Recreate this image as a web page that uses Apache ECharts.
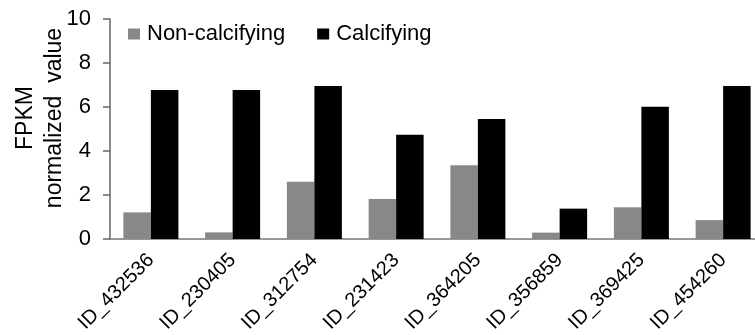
<!DOCTYPE html>
<html>
<head>
<meta charset="utf-8">
<script src="https://cdn.jsdelivr.net/npm/echarts@6/dist/echarts.min.js"></script>
<style>
html,body{margin:0;padding:0;background:#fff;}
#chart{width:755px;height:335px;}
</style>
</head>
<body>
<div id="chart"></div>
<script>
var categories = ['ID_432536','ID_230405','ID_312754','ID_231423','ID_364205','ID_356859','ID_369425','ID_454260'];
var nonCalcifying = [1.21, 0.30, 2.60, 1.82, 3.35, 0.29, 1.44, 0.86];
var calcifying = [6.77, 6.77, 6.95, 4.74, 5.45, 1.38, 6.01, 6.95];
var seriesNames = ['Non-calcifying', 'Calcifying'];
var yTicks = {min: 0, max: 10, interval: 2};

var font = '"Liberation Sans", Arial, sans-serif';
var chart = echarts.init(document.getElementById('chart'), null, {renderer: 'canvas'});
chart.setOption({
  animation: false,
  backgroundColor: '#fff',
  grid: {left: 110, top: 19, width: 654, height: 220, containLabel: false, outerBoundsMode: 'none'},
  legend: {
    left: 123, top: 18, padding: 5,
    icon: 'rect', itemWidth: 12, itemHeight: 11, itemGap: 32,
    textStyle: {fontFamily: font, fontSize: 22, color: '#000', padding: [0,0,0,2]},
    data: seriesNames
  },
  xAxis: {
    type: 'category',
    data: categories,
    axisLine: {show: true, lineStyle: {color: '#777', width: 1.5}},
    axisTick: {show: false},
    axisLabel: {rotate: 45, margin: 18, fontFamily: font, fontSize: 20, color: '#000', interval: 0}
  },
  yAxis: {
    type: 'value',
    min: yTicks.min, max: yTicks.max, interval: yTicks.interval,
    name: 'FPKM\nnormalized  value',
    nameLocation: 'middle',
    nameRotate: 90,
    nameGap: 41,
    nameMoveOverlap: false,
    nameTextStyle: {fontFamily: font, fontSize: 23, color: '#000', lineHeight: 29, padding: [0,0,0,22]},
    splitLine: {show: false},
    axisLine: {show: true, lineStyle: {color: '#666', width: 1.5}},
    axisTick: {show: true, length: 7, lineStyle: {color: '#666', width: 1.5}},
    axisLabel: {margin: 19, fontFamily: font, fontSize: 22, color: '#000'}
  },
  series: [
    {name: seriesNames[0], type: 'bar', data: nonCalcifying, barWidth: 27.5, barGap: '0%',
     itemStyle: {color: '#888888'}},
    {name: seriesNames[1], type: 'bar', data: calcifying, barWidth: 27.5, barGap: '0%',
     itemStyle: {color: '#000000'}}
  ]
});
</script>
</body>
</html>
